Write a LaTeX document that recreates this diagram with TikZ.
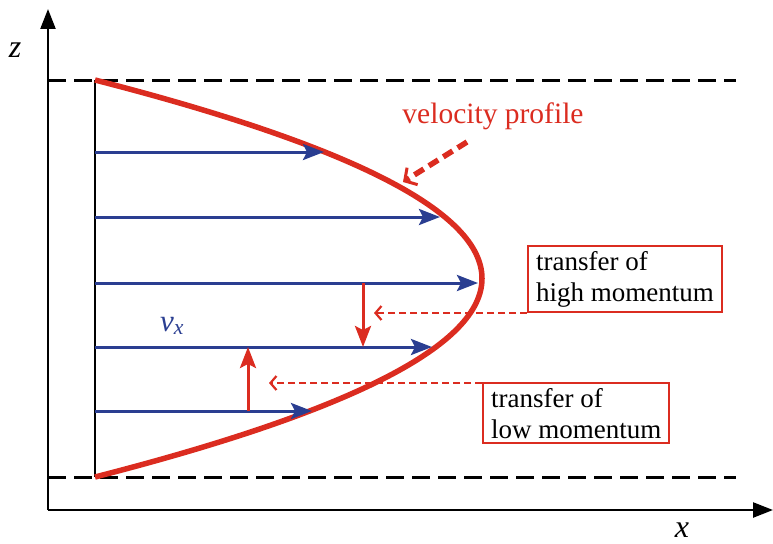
\documentclass[tikz,border=0pt]{standalone}
\usepackage{fontspec}
\setmainfont{Liberation Serif}
\usetikzlibrary{arrows.meta,positioning}
\definecolor{profred}{RGB}{219,44,32}
\definecolor{flowblue}{RGB}{42,62,145}

\begin{document}
\begin{tikzpicture}[
    x=1pt, y=-1pt,
    axis/.style={line width=2.4pt, -{Triangle[length=20pt,width=15pt]}},
    wall/.style={line width=3pt, dash pattern=on 18pt off 8pt},
    profile/.style={profred, line width=5.5pt},
    flow/.style={flowblue, line width=3pt, -{Stealth[length=21pt,width=16pt,inset=4pt]}},
    kick/.style={profred, line width=3pt, -{Stealth[length=21pt,width=16pt,inset=4pt]}},
    transfer/.style={profred, line width=2.2pt, dash pattern=on 7pt off 4pt,
        -{Straight Barb[length=6pt,width=14pt,line width=2.2pt]}},
    pointer/.style={profred, line width=5.5pt, dash pattern=on 11pt off 6pt,
        -{Straight Barb[length=9pt,width=20pt,line width=3pt]}},
    label box/.style={draw=profred, line width=2.2pt, align=left,
        inner xsep=8pt, inner ysep=5pt, font=\fontsize{27}{31}\selectfont},
    axis label/.style={font=\fontsize{32}{32}\selectfont\itshape}
]

% SAME BOUNDING BOX
\path[use as bounding box] (0,0) rectangle (773,543);

% AXES
\coordinate (O) at (48,510);
\coordinate (ztip) at (48,9);
\coordinate (xtip) at (773,510);
\draw[axis] (O) -- (ztip);
\draw[axis] (O) -- (xtip);
\node[axis label] (zlab) at (15,50) {z};
\node[axis label] (xlab) at (682,530) {x};

% PLATES
\coordinate (wallTL) at (48,80);
\coordinate (wallTR) at (736,80);
\coordinate (wallBL) at (48,477);
\coordinate (wallBR) at (736,477);
\draw[wall] (wallTL) -- (wallTR);
\draw[wall] (wallBL) -- (wallBR);

\coordinate (top) at (95,80);
\coordinate (bot) at (95,477);
\draw[line width=2.8pt] (top) -- (bot);

% PROFILE (parabola)
\draw[profile] (top) .. controls (611,212.3) and (611,344.7) .. (bot);

\foreach \y/\xe in {152/324, 217/440, 283/478, 347/432, 411/312}{
    \coordinate (s\y) at (95,\y);
    \coordinate (e\y) at (\xe,\y);
    \draw[flow] (s\y) -- (e\y);
}

\node[text=flowblue, font=\fontsize{31}{31}\selectfont\itshape] (vx) at (172,326) {v\textsubscript{x}};

% MOMENTUM TRANSFER
\coordinate (hiA) at (363,283);
\coordinate (hiB) at (363,347);
\coordinate (loA) at (248,411);
\coordinate (loB) at (248,347);
\draw[kick] (hiA) -- (hiB);
\draw[kick] (loA) -- (loB);

\node[label box, anchor=south west] (high) at (527,313) {transfer of\\high momentum};
\node[label box, anchor=north west] (low) at (482,382) {transfer of\\low momentum};

\coordinate (hiEnd) at (374,313);
\coordinate (loEnd) at (269,383);
\draw[transfer] (hiEnd -| high.west) -- (hiEnd);
\draw[transfer] (loEnd -| low.west) -- (loEnd);

% LABEL
\node[text=profred, font=\fontsize{29.5}{30}\selectfont] (vel) at (493,116) {velocity profile};
\coordinate (velStart) at (467,142);
\coordinate (velTip) at (403,182);
\draw[pointer] (velStart) -- (velTip);

\end{tikzpicture}
\end{document}
